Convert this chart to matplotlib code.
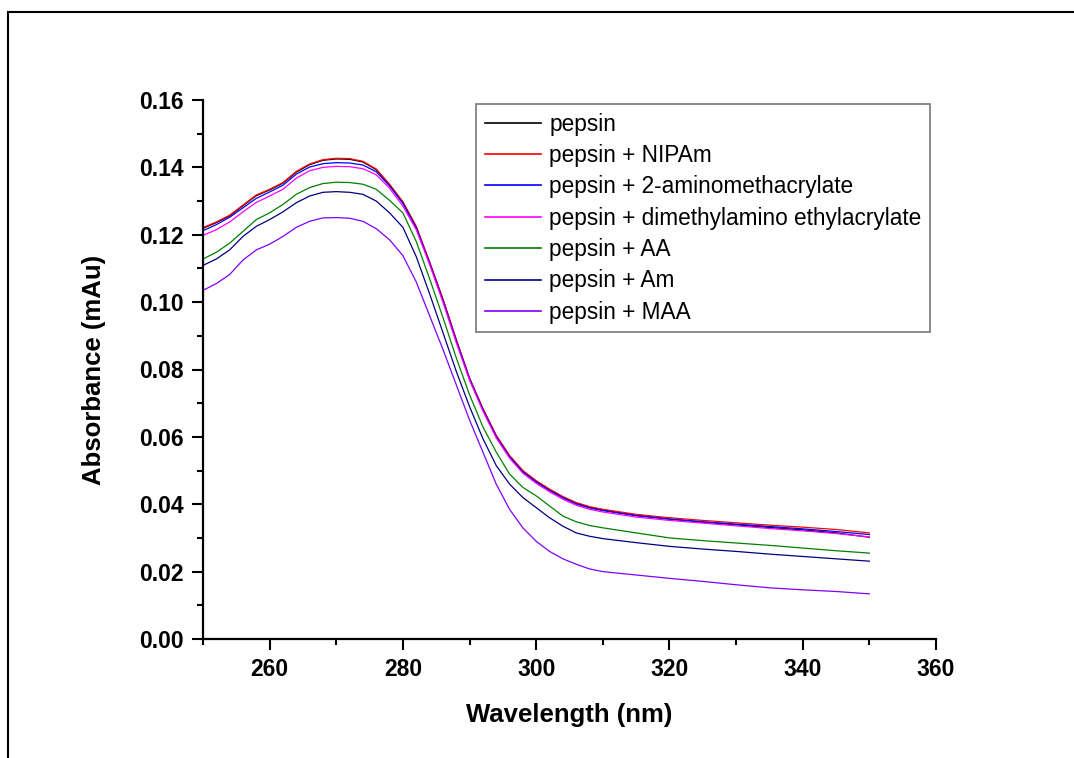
import matplotlib
matplotlib.use("Agg")
import matplotlib.pyplot as plt
from matplotlib.ticker import MultipleLocator, FormatStrFormatter
from matplotlib.patches import Rectangle

plt.rcParams['font.family'] = ['Liberation Sans', 'DejaVu Sans']

wavelength = [250, 252, 254, 256, 258, 260, 262, 264, 266, 268, 270, 272, 274, 276, 278,
              280, 282, 284, 286, 288, 290, 292, 294, 296, 298, 300, 302, 304, 306, 308,
              310, 315, 320, 325, 330, 335, 340, 345, 350]

pepsin = [0.1219, 0.1236, 0.1256, 0.1286, 0.1316, 0.1333, 0.1353, 0.1386, 0.1408, 0.1421,
          0.1425, 0.1424, 0.1416, 0.1393, 0.1348, 0.1296, 0.1223, 0.1118, 0.1008, 0.0888,
          0.0773, 0.0683, 0.0603, 0.0543, 0.0498, 0.0468, 0.0443, 0.0421, 0.0403, 0.0391,
          0.0383, 0.0367, 0.0356, 0.0347, 0.0339, 0.0331, 0.0324, 0.0315, 0.0302]

nipam = [0.1221, 0.1238, 0.1258, 0.1288, 0.1318, 0.1335, 0.1355, 0.1388, 0.1410, 0.1423,
         0.1427, 0.1426, 0.1418, 0.1395, 0.1350, 0.1298, 0.1225, 0.1120, 0.1010, 0.0890,
         0.0775, 0.0685, 0.0605, 0.0545, 0.0500, 0.0470, 0.0445, 0.0423, 0.0405, 0.0393,
         0.0385, 0.0370, 0.0360, 0.0352, 0.0345, 0.0338, 0.0332, 0.0325, 0.0315]

aminometh = [0.1212, 0.1230, 0.1252, 0.1280, 0.1308, 0.1327, 0.1347, 0.1380, 0.1401, 0.1411,
             0.1414, 0.1413, 0.1407, 0.1387, 0.1345, 0.1293, 0.1220, 0.1116, 0.1005, 0.0885,
             0.0772, 0.0681, 0.0601, 0.0541, 0.0496, 0.0466, 0.0441, 0.0419, 0.0401, 0.0389,
             0.0381, 0.0366, 0.0356, 0.0348, 0.0341, 0.0334, 0.0327, 0.0319, 0.0310]

dimethyl = [0.1198, 0.1215, 0.1238, 0.1268, 0.1296, 0.1315, 0.1335, 0.1368, 0.1390, 0.1400,
            0.1403, 0.1402, 0.1396, 0.1378, 0.1338, 0.1285, 0.1215, 0.1112, 0.1000, 0.0880,
            0.0768, 0.0677, 0.0597, 0.0537, 0.0492, 0.0462, 0.0437, 0.0415, 0.0397, 0.0385,
            0.0377, 0.0362, 0.0352, 0.0344, 0.0336, 0.0328, 0.0321, 0.0313, 0.0303]

aa = [0.1128, 0.1148, 0.1175, 0.1210, 0.1245, 0.1265, 0.1290, 0.1320, 0.1340, 0.1352,
      0.1356, 0.1355, 0.1350, 0.1335, 0.1302, 0.1265, 0.1180, 0.1070, 0.0955, 0.0835,
      0.0725, 0.0630, 0.0555, 0.0490, 0.0450, 0.0425, 0.0395, 0.0365, 0.0348, 0.0337,
      0.0330, 0.0315, 0.0300, 0.0292, 0.0285, 0.0278, 0.0270, 0.0262, 0.0255]

am = [0.1109, 0.1128, 0.1155, 0.1195, 0.1225, 0.1245, 0.1268, 0.1295, 0.1315, 0.1326,
      0.1328, 0.1326, 0.1320, 0.1300, 0.1265, 0.1222, 0.1135, 0.1025, 0.0910, 0.0795,
      0.0690, 0.0595, 0.0515, 0.0460, 0.0420, 0.0390, 0.0360, 0.0335, 0.0315, 0.0305,
      0.0298, 0.0286, 0.0275, 0.0267, 0.0260, 0.0252, 0.0245, 0.0238, 0.0231]

maa = [0.1035, 0.1055, 0.1082, 0.1125, 0.1155, 0.1172, 0.1195, 0.1222, 0.1240, 0.1250,
       0.1251, 0.1249, 0.1240, 0.1218, 0.1185, 0.1138, 0.1060, 0.0960, 0.0860, 0.0755,
       0.0650, 0.0555, 0.0460, 0.0385, 0.0330, 0.0290, 0.0260, 0.0238, 0.0222, 0.0208,
       0.0200, 0.0190, 0.0180, 0.0171, 0.0161, 0.0152, 0.0146, 0.0141, 0.0134]

labels = ["pepsin", "pepsin + NIPAm", "pepsin + 2-aminomethacrylate",
          "pepsin + dimethylamino ethylacrylate", "pepsin + AA", "pepsin + Am", "pepsin + MAA"]
series = [pepsin, nipam, aminometh, dimethyl, aa, am, maa]
colors = ["#000000", "#ff0000", "#0000ff", "#ff00ff", "#008000", "#000080", "#8000ff"]

W, H = 1074, 758
fig = plt.figure(figsize=(W / 100, H / 100), dpi=100)
ax = fig.add_axes([203 / W, 1 - 639 / H, (936 - 203) / W, (639 - 100) / H])

for ys, lab, c in zip(series, labels, colors):
    ax.plot(wavelength, ys, color=c, lw=0.9, label=lab)

ax.set_xlim(250, 360)
ax.set_ylim(0, 0.16)
ax.set_xticks([260, 280, 300, 320, 340, 360])
ax.xaxis.set_minor_locator(MultipleLocator(10))
ax.yaxis.set_major_locator(MultipleLocator(0.02))
ax.yaxis.set_minor_locator(MultipleLocator(0.01))
ax.yaxis.set_major_formatter(FormatStrFormatter('%.2f'))

for s in ['top', 'right']:
    ax.spines[s].set_visible(False)
for s in ['left', 'bottom']:
    ax.spines[s].set_linewidth(1.6)

ax.tick_params(which='major', direction='out', length=8, width=1.5, labelsize=16.5, pad=6)
ax.tick_params(which='minor', direction='out', length=4.5, width=1.5)
for t in ax.get_xticklabels() + ax.get_yticklabels():
    t.set_fontweight('bold')

ax.set_xlabel("Wavelength (nm)", fontsize=18.5, fontweight='bold', labelpad=15.5)
ax.set_ylabel("Absorbance (mAu)", fontsize=18.5, fontweight='bold', labelpad=24)

leg = ax.legend(loc='upper left', bbox_to_anchor=(476 / W, 1 - 104 / H),
                bbox_transform=fig.transFigure, fontsize=16.3, frameon=True, fancybox=False,
                handlelength=2.5, handletextpad=0.35, labelspacing=0.37, borderpad=0.38,
                borderaxespad=0)
leg.get_frame().set_edgecolor('#555555')
leg.get_frame().set_linewidth(1.2)
for line in leg.get_lines():
    line.set_linewidth(1.2)

fig.patches.append(Rectangle((8 / W, -0.2), 1.2, 1.2 - 12 / H, transform=fig.transFigure,
                             fill=False, edgecolor='black', linewidth=1.5, clip_on=False))

fig.savefig("out.png", dpi=100)
